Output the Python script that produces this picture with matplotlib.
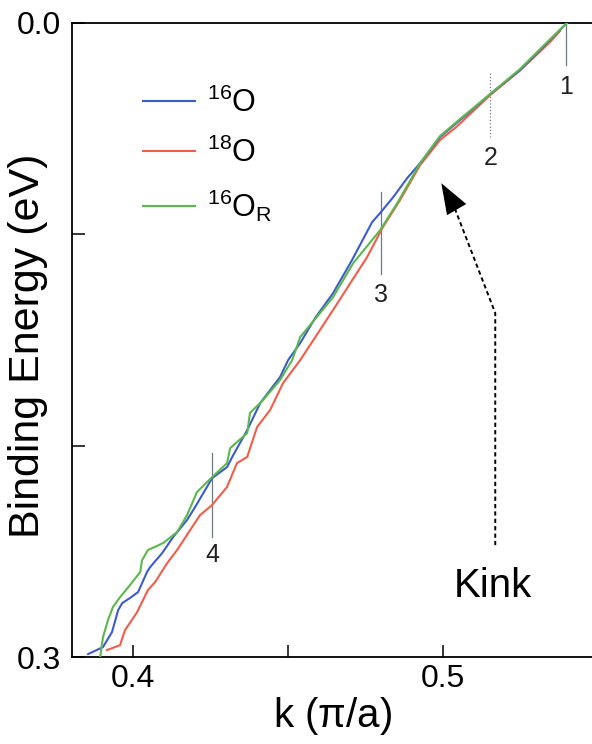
import numpy as np
import matplotlib
matplotlib.use("Agg")
import matplotlib.pyplot as plt

plt.rcParams['font.family'] = ['Liberation Sans', 'DejaVu Sans']
plt.rcParams['mathtext.fontset'] = 'custom'
plt.rcParams['mathtext.rm'] = 'Liberation Sans'

# dispersion, k in pi/a, binding energy in eV
k_16O = [0.3855, 0.3903, 0.3932, 0.3952, 0.3965, 0.3990, 0.4016, 0.4045, 0.4055,
         0.4094, 0.4129, 0.4174, 0.4200, 0.4255, 0.4303, 0.4323, 0.4368, 0.4410,
         0.4474, 0.4500, 0.4539, 0.4587, 0.4645, 0.4706, 0.4771, 0.4797, 0.4839,
         0.4884, 0.4926, 0.4990, 0.5055, 0.5152, 0.5248, 0.5329, 0.5400]
E_16O = [0.2986, 0.2953, 0.2882, 0.2778, 0.2745, 0.2721, 0.2693, 0.2598, 0.2575,
         0.2508, 0.2433, 0.2352, 0.2291, 0.2154, 0.2102, 0.2045, 0.1927, 0.1799,
         0.1676, 0.1596, 0.1515, 0.1397, 0.1279, 0.1123, 0.0943, 0.0900, 0.0825,
         0.0735, 0.0664, 0.0541, 0.0460, 0.0337, 0.0224, 0.0105, 0.0000]

k_18O = [0.3916, 0.3958, 0.3974, 0.4013, 0.4048, 0.4071, 0.4110, 0.4142, 0.4184,
         0.4216, 0.4255, 0.4303, 0.4335, 0.4368, 0.4400, 0.4442, 0.4484, 0.4539,
         0.4645, 0.4755, 0.4806, 0.4861, 0.4926, 0.4990, 0.5045, 0.5152, 0.5248,
         0.5345, 0.5377]
E_18O = [0.2967, 0.2944, 0.2873, 0.2788, 0.2683, 0.2646, 0.2556, 0.2494, 0.2400,
         0.2329, 0.2281, 0.2196, 0.2083, 0.2054, 0.1912, 0.1832, 0.1704, 0.1596,
         0.1359, 0.1108, 0.0966, 0.0839, 0.0673, 0.0555, 0.0490, 0.0342, 0.0226,
         0.0091, 0.0039]

k_16OR = [0.3894, 0.3903, 0.3919, 0.3935, 0.3958, 0.3990, 0.4023, 0.4029, 0.4048,
          0.4097, 0.4142, 0.4174, 0.4206, 0.4255, 0.4303, 0.4313, 0.4368, 0.4377,
          0.4419, 0.4474, 0.4513, 0.4539, 0.4645, 0.4710, 0.4797, 0.4852, 0.4926,
          0.4990, 0.5055, 0.5152, 0.5248, 0.5329, 0.5400]
E_16OR = [0.3000, 0.2906, 0.2826, 0.2764, 0.2717, 0.2660, 0.2598, 0.2542, 0.2494,
          0.2461, 0.2409, 0.2329, 0.2220, 0.2149, 0.2083, 0.2012, 0.1941, 0.1846,
          0.1785, 0.1690, 0.1596, 0.1487, 0.1298, 0.1137, 0.0981, 0.0853, 0.0664,
          0.0536, 0.0455, 0.0337, 0.0219, 0.0101, 0.0000]

# numbered cuts: k position, energy span, label energy
cut_names = ['1', '2', '3', '4']
cut_k = [0.5397, 0.5152, 0.4800, 0.4255]
cut_top = [0.0, 0.0238, 0.0800, 0.2035]
cut_bot = [0.0200, 0.0541, 0.1190, 0.2433]
cut_label_E = [0.0305, 0.0640, 0.1290, 0.2518]
cut_style = ['-', ':', '-', '-']

# kink arrow path (bottom -> bend -> tip)
kink_k = [0.5168, 0.5168, 0.5030]
kink_E = [0.2471, 0.1373, 0.0850]
kink_tip = (0.4994, 0.0759)
kink_text = (0.5161, 0.2665)

fig = plt.figure(figsize=(5.92, 7.44), dpi=100)
ax = fig.add_axes([0.1216, 0.1169, 0.8784, 0.8526])

ax.plot(k_16O, E_16O, color='#3b5ccc', lw=1.5, label=r'$\mathregular{^{16}O}$', zorder=3)
ax.plot(k_18O, E_18O, color='#f25c48', lw=1.5, label=r'$\mathregular{^{18}O}$', zorder=2)
ax.plot(k_16OR, E_16OR, color='#5bb84a', lw=1.5, label=r'$\mathregular{^{16}O_R}$', zorder=4)

for name, k, top, bot, ly, ls in zip(cut_names, cut_k, cut_top, cut_bot, cut_label_E, cut_style):
    ax.plot([k, k], [top, bot], color='#6b7b85', lw=0.9, ls=ls, zorder=1)
    ax.text(k, ly, name, fontsize=18, ha='center', va='center', color='#222222')

ax.plot(kink_k, kink_E, color='k', lw=1.4, ls=(0, (2.2, 1.6)))
ax.annotate('', xy=kink_tip, xytext=(kink_k[-1], kink_E[-1]),
            arrowprops=dict(arrowstyle='-|>,head_length=1.1,head_width=0.4',
                            color='k', lw=0, mutation_scale=20, shrinkA=0, shrinkB=0))
ax.text(kink_text[0], kink_text[1], 'Kink', fontsize=29, ha='center', va='center')

ax.set_xlim(0.3803, 0.548)
ax.set_ylim(0.3, 0.0)
ax.set_xticks([0.4, 0.45, 0.5])
ax.set_xticklabels(['0.4', '', '0.5'])
ax.set_yticks([0.0, 0.1, 0.2, 0.3])
ax.set_yticklabels(['0.0', '', '', '0.3'])
ax.tick_params(direction='in', length=9, width=1.1, labelsize=23)
ax.tick_params(axis='y', pad=8)
ax.tick_params(axis='x', pad=5)
ax.spines['right'].set_visible(False)
for s in ['left', 'top', 'bottom']:
    ax.spines[s].set_linewidth(1.3)

ax.set_xlabel(r'k ($\mathregular{\pi}$/a)', fontsize=29, labelpad=1)
ax.set_ylabel('Binding Energy (eV)', fontsize=31)
ax.yaxis.set_label_coords(-0.047, 0.49)

ax.legend(loc='upper left', bbox_to_anchor=(0.137, 0.898), frameon=False, fontsize=22,
          handlelength=1.7, handletextpad=0.4, labelspacing=0.62, borderpad=0,
          borderaxespad=0)

fig.savefig('out.png', dpi=100)
